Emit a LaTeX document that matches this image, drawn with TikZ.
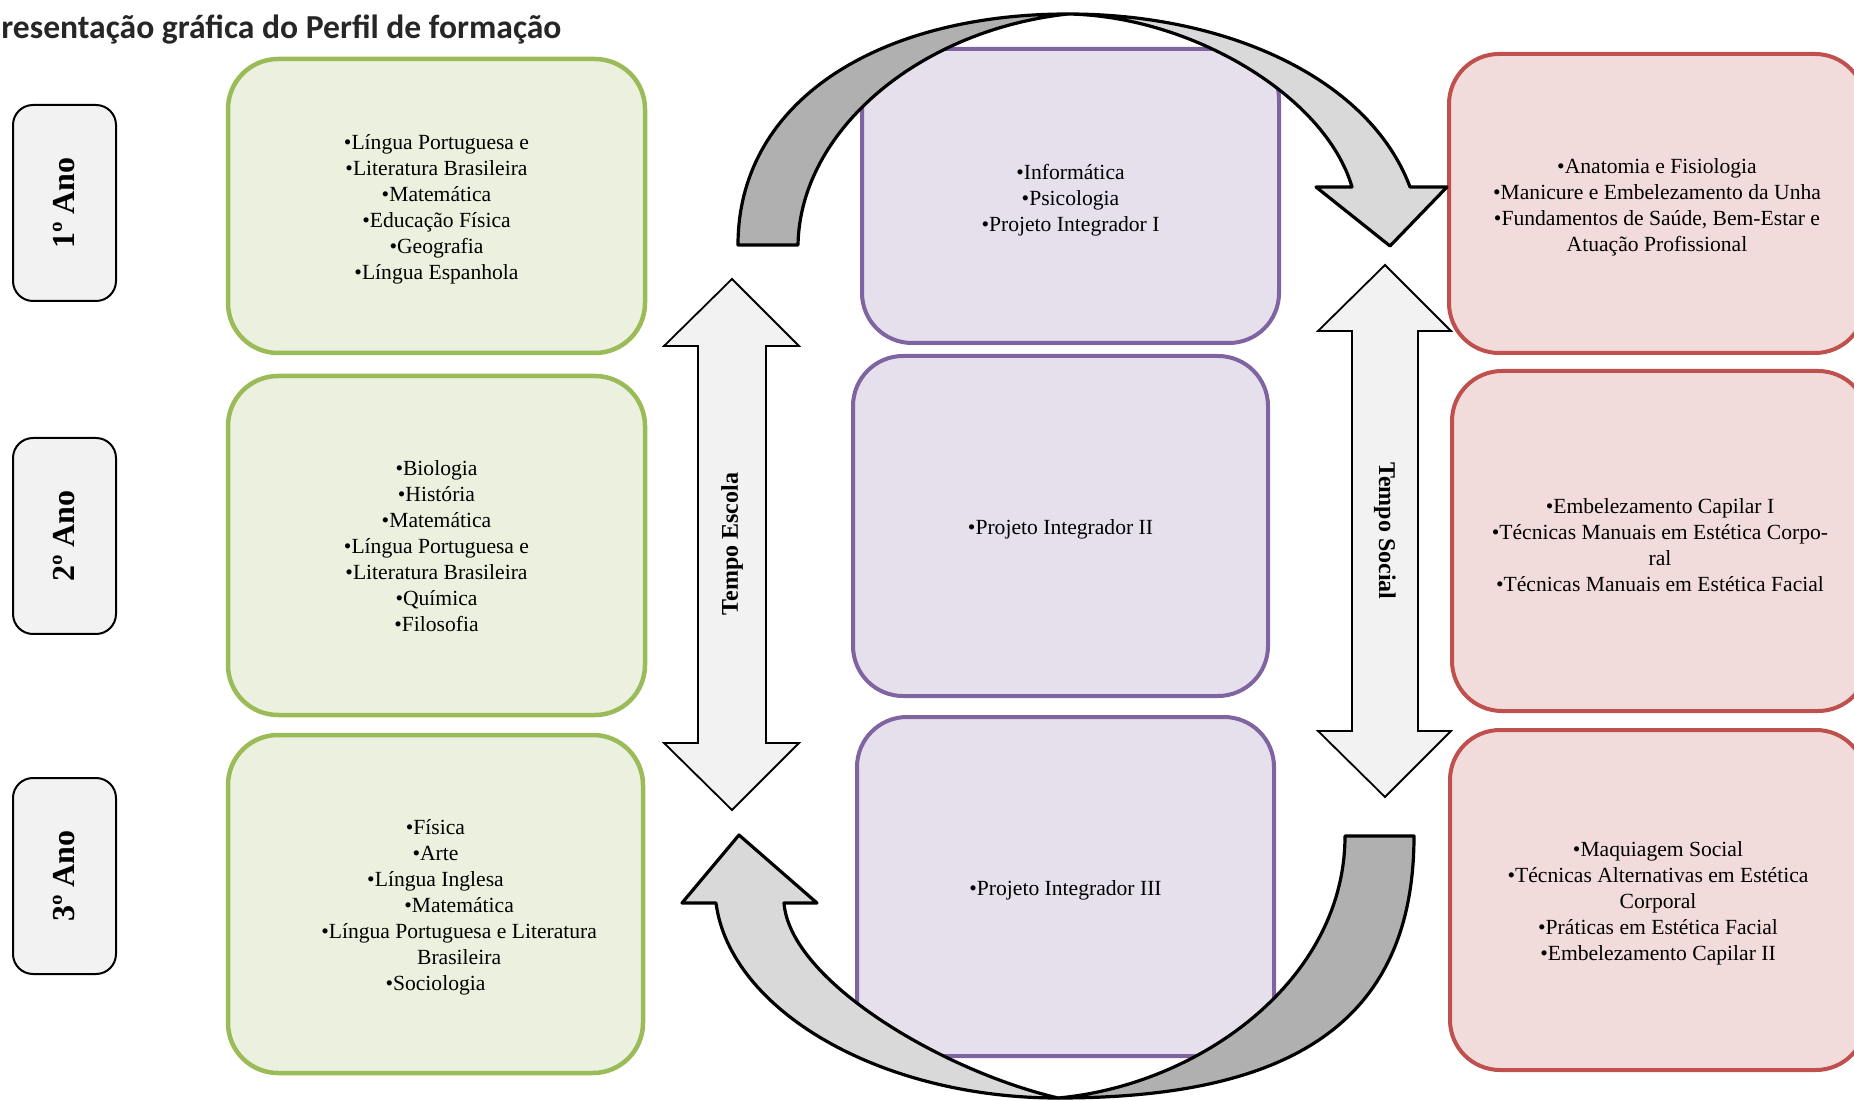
\documentclass[tikz,border=0pt]{standalone}
\usepackage{fontspec}
\setmainfont{Liberation Serif}
\newfontfamily\titlefont{Carlito}
\definecolor{gfill}{HTML}{EBF1DE}
\definecolor{gline}{HTML}{9BBB59}
\definecolor{pfill}{HTML}{E5E0EC}
\definecolor{pline}{HTML}{8064A2}
\definecolor{rfill}{HTML}{F2DCDB}
\definecolor{rline}{HTML}{C0504D}
\definecolor{yfill}{HTML}{F2F2F2}
\definecolor{darkband}{HTML}{B0B0B0}
\definecolor{lightband}{HTML}{D9D9D9}
\begin{document}
\begin{tikzpicture}[x=0.5pt,y=-0.5pt,
  bigbox/.style={rectangle, rounded corners=25pt, inner sep=0pt, line width=2pt},
  gbox/.style={bigbox, fill=gfill, draw=gline, line width=2.25pt},
  pbox/.style={bigbox, fill=pfill, draw=pline},
  rbox/.style={bigbox, fill=rfill, draw=rline},
  boxtext/.style={align=center, inner sep=0pt, yshift=-1.9pt,
    font=\fontsize{10.8}{13}\selectfont},
  yearbox/.style={rectangle, draw=black, fill=yfill, rounded corners=10pt, line width=1pt,
    minimum width=98pt, minimum height=51.5pt, rotate=90, inner sep=0pt,
    font=\bfseries\fontsize{16}{19}\selectfont},
  varrow/.style={draw=black, fill=yfill, line width=0.9pt},
  curvearrow/.style={draw=black, line width=1.6pt, line join=round},
  tempolabel/.style={inner sep=0pt, font=\bfseries\fontsize{12}{14}\selectfont}
]
\useasboundingbox (0,0) rectangle (1854,1101);
\clip (0,0) rectangle (1854,1101);

% year boxes
\node[yearbox] (y1) at (64.5,203) {1º Ano};
\node[yearbox] (y2) at (64.5,536) {2º Ano};
\node[yearbox] (y3) at (64.5,876) {3º Ano};

% green boxes
\node[gbox, minimum width=208.5pt, minimum height=147pt] (g1) at (436.5,206) {};
\node[boxtext] (g1t) at (g1.center)
  {•Língua Portuguesa e\\•Literatura Brasileira\\•Matemática\\•Educação Física\\•Geografia\\•Língua Espanhola};
\node[gbox, minimum width=208.5pt, minimum height=169.5pt] (g2) at (436.5,545.5) {};
\node[boxtext, yshift=1.7pt] (g2t) at (g2.center)
  {•Biologia\\•História\\•Matemática\\•Língua Portuguesa e\\•Literatura Brasileira\\•Química\\•Filosofia};
\node[gbox, minimum width=207.5pt, minimum height=169pt] (g3) at (435.5,904) {};
\node[boxtext] (g3t) at (g3.center)
  {•Física\\•Arte\\•Língua Inglesa\\\hspace*{23.6pt}•Matemática\\\hspace*{23.6pt}•Língua Portuguesa e Literatura\\\hspace*{23.6pt}Brasileira\\•Sociologia};

% purple boxes
\node[pbox, minimum width=208.5pt, minimum height=147pt] (p1) at (1070.5,196) {};
\node[boxtext] (p1t) at (p1.center) {•Informática\\•Psicologia\\•Projeto Integrador I};
\node[pbox, minimum width=207.5pt, minimum height=170pt] (p2) at (1060.5,526) {};
\node[boxtext] (p2t) at (p2.center) {•Projeto Integrador II};
\node[pbox, minimum width=208.5pt, minimum height=169.5pt] (p3) at (1065.5,886.5) {};
\node[boxtext] (p3t) at (p3.center) {•Projeto Integrador III};

% red boxes
\node[rbox, minimum width=208pt, minimum height=149.5pt] (r1) at (1657,203.5) {};
\node[boxtext] (r1t) at (r1.center)
  {•Anatomia e Fisiologia\\•Manicure e Embelezamento da Unha\\•Fundamentos de Saúde, Bem-Estar e\\Atuação Profissional};
\node[rbox, minimum width=208pt, minimum height=170pt] (r2) at (1660,541) {};
\node[boxtext] (r2t) at (r2.center)
  {•Embelezamento Capilar I\\•Técnicas Manuais em Estética Corpo-\\ral\\•Técnicas Manuais em Estética Facial};
\node[rbox, minimum width=208pt, minimum height=170pt] (r3) at (1658,900) {};
\node[boxtext] (r3t) at (r3.center)
  {•Maquiagem Social\\•Técnicas Alternativas em Estética\\Corporal\\•Práticas em Estética Facial\\•Embelezamento Capilar II};

% vertical double arrows
\draw[varrow] (732,279) -- (799,346) -- (766,346) -- (766,743) -- (799,743) -- (732,810)
  -- (664,743) -- (698,743) -- (698,346) -- (664,346) -- cycle;
\draw[varrow] (1385,265) -- (1451,331) -- (1418,331) -- (1418,731) -- (1451,731) -- (1385,797)
  -- (1318,731) -- (1352,731) -- (1352,331) -- (1318,331) -- cycle;
\node[tempolabel, rotate=90] (te) at (732,544) {Tempo Escola};
\node[tempolabel, rotate=-90] (ts) at (1385,531) {Tempo Social};

% top curved arrow
\draw[curvearrow, fill=darkband] (738,245) -- (798,245)
  .. controls (800,130) and (920,30) .. (1068,14)
  .. controls (880,14) and (738,100) .. (738,245) -- cycle;
\draw[curvearrow, fill=lightband] (1068,14)
  .. controls (1230,14) and (1370,80) .. (1410,187)
  -- (1447,187) -- (1390,246) -- (1316,187) -- (1352,187)
  .. controls (1325,95) and (1190,16) .. (1068,14) -- cycle;

% bottom curved arrow
\draw[curvearrow, fill=darkband] (1345,836) -- (1414,836)
  .. controls (1414,1030) and (1280,1098) .. (1058,1098)
  .. controls (1200,1085) and (1345,980) .. (1345,836) -- cycle;
\draw[curvearrow, fill=lightband] (1058,1098)
  .. controls (880,1098) and (730,1010) .. (716,903)
  -- (682,903) -- (739,835) -- (817,903) -- (784,903)
  .. controls (790,980) and (940,1070) .. (1058,1098) -- cycle;

% title
\node[anchor=base west, inner sep=0pt, text=black!85,
  font=\titlefont\bfseries\fontsize{16.8}{20}\selectfont] (title) at (1,39)
  {resentação gráfica do Perfil de formação};
\end{tikzpicture}
\end{document}
